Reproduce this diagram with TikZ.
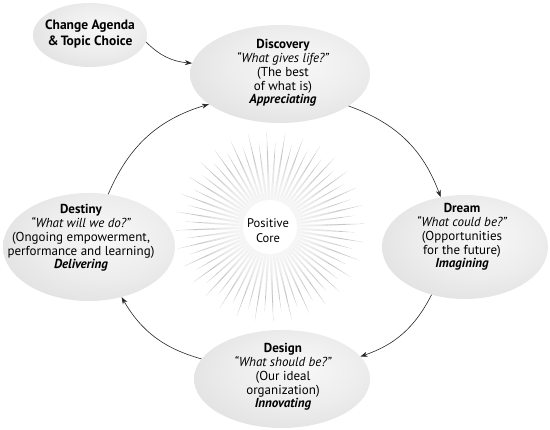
\documentclass[tikz,border=0pt]{standalone}
\usepackage{fontspec}
\setmainfont{PT Sans}
\usetikzlibrary{shapes.geometric,arrows.meta,calc}
\pgfdeclareradialshading{ellshade}{\pgfpoint{6bp}{6bp}}{color(0bp)=(gray!6); color(18bp)=(gray!14); color(45bp)=(gray!32); color(60bp)=(gray!36)}
\begin{document}
\begin{tikzpicture}[x=1pt,y=1pt,
  bubble/.style={ellipse, draw=none, shading=ellshade, inner sep=0pt},
  txt/.style={align=center, font=\fontsize{13}{13.8}\selectfont},
  conn/.style={-{Stealth[length=7pt,width=5pt]}, line width=0.6pt, black!85}]
\useasboundingbox (0,0) rectangle (550,430);
% sunburst
\coordinate (sun) at (270,203);
\foreach \i in {0,...,63}{
  \pgfmathsetmacro{\a}{\i*5.625+2}
  \pgfmathsetmacro{\r}{mod(\i,2)==0 ? 95 : 85}
  \fill[gray!45] ($(sun)+(\a-4:22)$) -- ($(sun)+(\a:\r)$) -- ($(sun)+(\a+4:22)$) -- cycle;
}
\foreach \rr in {68,64,...,28}{
  \fill[white, opacity=0.18] (sun) circle (\rr);
}
\fill[white] (sun) circle (27);
\node[font=\fontsize{12.5}{15}\selectfont, align=center] (core) at (268,199) {Positive\\Core};
% bubbles
\node[bubble, minimum width=114, minimum height=64] (change) at (90,395) {};
\node[bubble, minimum width=180, minimum height=98] (disc) at (280,356) {};
\node[bubble, minimum width=166, minimum height=104] (dream) at (465,183) {};
\node[bubble, minimum width=176, minimum height=98] (design) at (282,51) {};
\node[bubble, minimum width=172, minimum height=108] (destiny) at (89,183) {};
% texts
\node[align=center, font=\fontsize{13.5}{16.5}\selectfont\bfseries] (changeT) at (90,396) {Change Agenda\\\&\,Topic Choice};
\node[txt] (discT) at (283,357) {\textbf{Discovery}\\\textit{“What gives life?”}\\(The best\\of what is)\\\textbf{\textit{Appreciating}}};
\node[txt] (dreamT) at (462,193) {\textbf{Dream}\\\textit{“What could be?”}\\(Opportunities\\for the future)\\\textbf{\textit{Imagining}}};
\node[txt] (designT) at (283,53) {\textbf{Design}\\\textit{“What should be?”}\\(Our ideal\\organization)\\\textbf{\textit{Innovating}}};
\node[txt] (destinyT) at (81,192) {\textbf{Destiny}\\\textit{“What will we do?”}\\(Ongoing empowerment,\\performance and learning)\\\textbf{\textit{Delivering}}};
% connectors
\draw[conn] (change.-7) to[bend right=20] (disc.173);
\draw[conn] (disc.-25) to[bend left=25] (dream.116);
\draw[conn] (dream.235) to[bend left=22] (design.16);
\draw[conn] (design.166) to[bend left=22] (destiny.-57);
\draw[conn] (destiny.70) to[bend left=25] (disc.203);
\end{tikzpicture}
\end{document}
